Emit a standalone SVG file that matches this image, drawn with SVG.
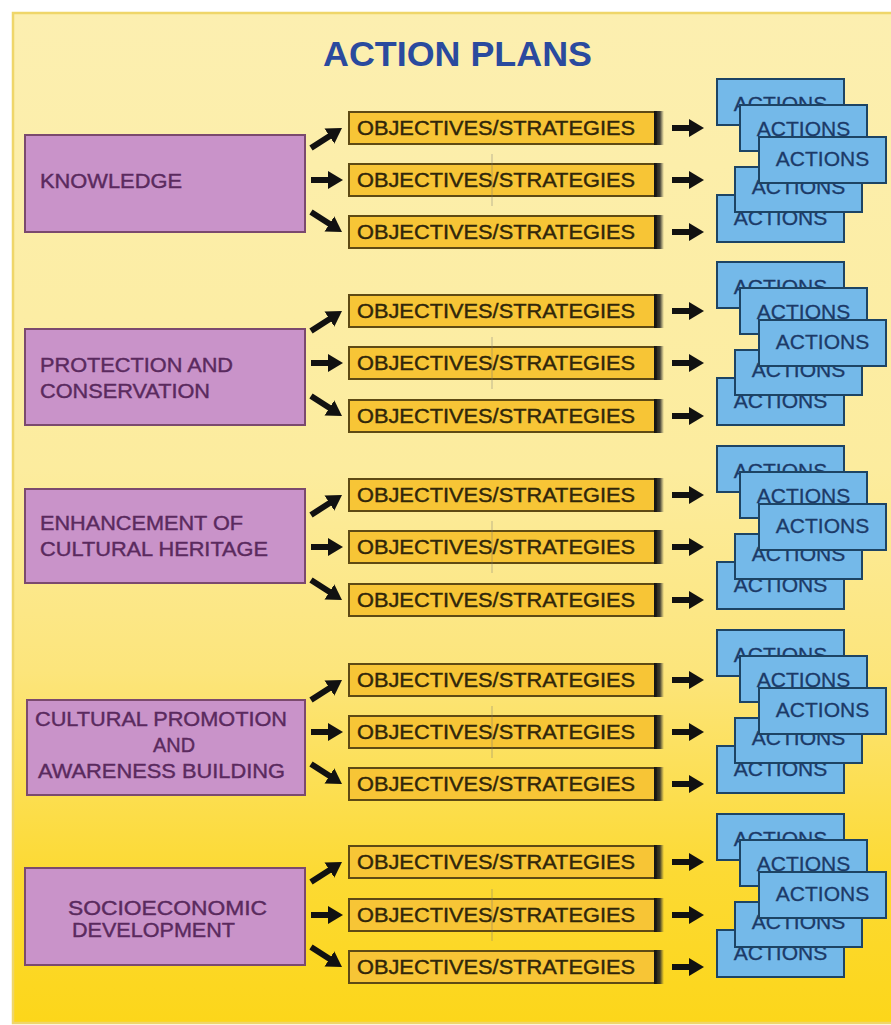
<svg xmlns="http://www.w3.org/2000/svg" width="891" height="1025" viewBox="0 0 891 1025">
<defs>
<linearGradient id="bg" x1="0" y1="0" x2="0" y2="1">
<stop offset="0" stop-color="#fcefb0"/>
<stop offset="0.45" stop-color="#fcec9e"/>
<stop offset="0.65" stop-color="#fce57c"/>
<stop offset="0.85" stop-color="#fcda34"/>
<stop offset="1" stop-color="#fcd61a"/>
</linearGradient>
<linearGradient id="shade" x1="0" y1="0" x2="1" y2="0">
<stop offset="0" stop-color="#111" stop-opacity="1"/>
<stop offset="0.6" stop-color="#222" stop-opacity="0.85"/>
<stop offset="1" stop-color="#444" stop-opacity="0"/>
</linearGradient>
<marker id="ah" markerUnits="userSpaceOnUse" markerWidth="16" markerHeight="20" refX="5" refY="10" orient="auto">
<path d="M0,1 L15,10 L0,19 z" fill="#111"/>
</marker>
<style>
.title{font-family:"Liberation Sans",Arial,sans-serif;font-weight:bold;font-size:35px;fill:#2a4a9e}
.pbox{fill:#c993c9;stroke:#7b4a6e;stroke-width:2}
.ptxt{font-family:"Liberation Sans",Arial,sans-serif;font-size:20px;fill:#5a2a5e;stroke:#5a2a5e;stroke-width:0.4}
.obox{fill:#f7c536;stroke:#5e4a14;stroke-width:2}
.oshd{fill:url(#shade)}
.otxt{font-family:"Liberation Sans",Arial,sans-serif;font-size:20px;fill:#30260a;stroke:#30260a;stroke-width:0.4}
.vln{stroke:#777;stroke-width:1;opacity:0.45}
.abox{fill:#74b9e9;stroke:#1d4464;stroke-width:2}
.atxt{font-family:"Liberation Sans",Arial,sans-serif;font-size:21px;fill:#1c3a68;stroke:#1c3a68;stroke-width:0.3;text-anchor:middle}
.conn line{stroke:#111;stroke-width:6;marker-end:url(#ah)}
</style>
</defs>
<rect x="0" y="0" width="891" height="1025" fill="#ffffff"/>
<rect x="13" y="13" width="890" height="1010" fill="url(#bg)" stroke="#efd66a" stroke-width="2.5"/>
<text class="title" x="323" y="66" textLength="269" lengthAdjust="spacingAndGlyphs">ACTION PLANS</text>

<!-- connectors -->
<g id="connectors" class="conn">
<line x1="311" y1="148" x2="333.6" y2="133.4"/>
<line x1="311" y1="180" x2="333" y2="180"/>
<line x1="311" y1="212" x2="333.6" y2="226.6"/>
<line x1="672" y1="128" x2="694" y2="128"/>
<line x1="672" y1="180" x2="694" y2="180"/>
<line x1="672" y1="232" x2="694" y2="232"/>

<line x1="311" y1="331" x2="333.6" y2="316.4"/>
<line x1="311" y1="363" x2="333" y2="363"/>
<line x1="311" y1="396" x2="333.6" y2="410.6"/>
<line x1="672" y1="311" x2="694" y2="311"/>
<line x1="672" y1="363" x2="694" y2="363"/>
<line x1="672" y1="416" x2="694" y2="416"/>

<line x1="311" y1="515" x2="333.6" y2="500.4"/>
<line x1="311" y1="547" x2="333" y2="547"/>
<line x1="311" y1="580" x2="333.6" y2="594.6"/>
<line x1="672" y1="495" x2="694" y2="495"/>
<line x1="672" y1="547" x2="694" y2="547"/>
<line x1="672" y1="600" x2="694" y2="600"/>

<line x1="311" y1="700" x2="333.6" y2="685.4"/>
<line x1="311" y1="732" x2="333" y2="732"/>
<line x1="311" y1="764" x2="333.6" y2="778.6"/>
<line x1="672" y1="680" x2="694" y2="680"/>
<line x1="672" y1="732" x2="694" y2="732"/>
<line x1="672" y1="784" x2="694" y2="784"/>

<line x1="311" y1="882" x2="333.6" y2="867.4"/>
<line x1="311" y1="915" x2="333" y2="915"/>
<line x1="311" y1="947" x2="333.6" y2="961.6"/>
<line x1="672" y1="862" x2="694" y2="862"/>
<line x1="672" y1="915" x2="694" y2="915"/>
<line x1="672" y1="967" x2="694" y2="967"/>
</g>

<!-- purple nodes -->
<g id="knowledge"><rect class="pbox" x="25" y="135" width="280" height="97"/>
<text class="ptxt" x="40" y="188" textLength="142" lengthAdjust="spacingAndGlyphs">KNOWLEDGE</text></g>
<g id="protection"><rect class="pbox" x="25" y="329" width="280" height="96"/>
<text class="ptxt" x="40" y="372" textLength="193" lengthAdjust="spacingAndGlyphs">PROTECTION AND</text>
<text class="ptxt" x="40" y="398" textLength="170" lengthAdjust="spacingAndGlyphs">CONSERVATION</text></g>
<g id="enhancement"><rect class="pbox" x="25" y="489" width="280" height="94"/>
<text class="ptxt" x="40" y="530" textLength="203" lengthAdjust="spacingAndGlyphs">ENHANCEMENT OF</text>
<text class="ptxt" x="40" y="556" textLength="228" lengthAdjust="spacingAndGlyphs">CULTURAL HERITAGE</text></g>
<g id="promotion"><rect class="pbox" x="27" y="700" width="278" height="95"/>
<text class="ptxt" x="35" y="726" textLength="252" lengthAdjust="spacingAndGlyphs">CULTURAL PROMOTION</text>
<text class="ptxt" x="153" y="752" textLength="42" lengthAdjust="spacingAndGlyphs">AND</text>
<text class="ptxt" x="38" y="778" textLength="247" lengthAdjust="spacingAndGlyphs">AWARENESS BUILDING</text></g>
<g id="socioeconomic"><rect class="pbox" x="25" y="868" width="280" height="97"/>
<text class="ptxt" x="68" y="915" textLength="199" lengthAdjust="spacingAndGlyphs">SOCIOECONOMIC</text>
<text class="ptxt" x="72" y="937" textLength="163" lengthAdjust="spacingAndGlyphs">DEVELOPMENT</text></g>

<!-- objectives/strategies nodes -->
<g id="obj-1-1"><rect class="obox" x="349" y="112" width="307" height="32"/><rect class="oshd" x="654" y="111" width="10" height="34"/><text class="otxt" x="357" y="135" textLength="278" lengthAdjust="spacingAndGlyphs">OBJECTIVES/STRATEGIES</text></g>
<g id="obj-1-2"><rect class="obox" x="349" y="164" width="307" height="32"/><rect class="oshd" x="654" y="163" width="10" height="34"/><text class="otxt" x="357" y="187" textLength="278" lengthAdjust="spacingAndGlyphs">OBJECTIVES/STRATEGIES</text><line class="vln" x1="492" y1="154" x2="492" y2="206"/></g>
<g id="obj-1-3"><rect class="obox" x="349" y="216" width="307" height="32"/><rect class="oshd" x="654" y="215" width="10" height="34"/><text class="otxt" x="357" y="239" textLength="278" lengthAdjust="spacingAndGlyphs">OBJECTIVES/STRATEGIES</text></g>

<g id="obj-2-1"><rect class="obox" x="349" y="295" width="307" height="32"/><rect class="oshd" x="654" y="294" width="10" height="34"/><text class="otxt" x="357" y="318" textLength="278" lengthAdjust="spacingAndGlyphs">OBJECTIVES/STRATEGIES</text></g>
<g id="obj-2-2"><rect class="obox" x="349" y="347" width="307" height="32"/><rect class="oshd" x="654" y="346" width="10" height="34"/><text class="otxt" x="357" y="370" textLength="278" lengthAdjust="spacingAndGlyphs">OBJECTIVES/STRATEGIES</text><line class="vln" x1="492" y1="337" x2="492" y2="389"/></g>
<g id="obj-2-3"><rect class="obox" x="349" y="400" width="307" height="32"/><rect class="oshd" x="654" y="399" width="10" height="34"/><text class="otxt" x="357" y="423" textLength="278" lengthAdjust="spacingAndGlyphs">OBJECTIVES/STRATEGIES</text></g>

<g id="obj-3-1"><rect class="obox" x="349" y="479" width="307" height="32"/><rect class="oshd" x="654" y="478" width="10" height="34"/><text class="otxt" x="357" y="502" textLength="278" lengthAdjust="spacingAndGlyphs">OBJECTIVES/STRATEGIES</text></g>
<g id="obj-3-2"><rect class="obox" x="349" y="531" width="307" height="32"/><rect class="oshd" x="654" y="530" width="10" height="34"/><text class="otxt" x="357" y="554" textLength="278" lengthAdjust="spacingAndGlyphs">OBJECTIVES/STRATEGIES</text><line class="vln" x1="492" y1="521" x2="492" y2="573"/></g>
<g id="obj-3-3"><rect class="obox" x="349" y="584" width="307" height="32"/><rect class="oshd" x="654" y="583" width="10" height="34"/><text class="otxt" x="357" y="607" textLength="278" lengthAdjust="spacingAndGlyphs">OBJECTIVES/STRATEGIES</text></g>

<g id="obj-4-1"><rect class="obox" x="349" y="664" width="307" height="32"/><rect class="oshd" x="654" y="663" width="10" height="34"/><text class="otxt" x="357" y="687" textLength="278" lengthAdjust="spacingAndGlyphs">OBJECTIVES/STRATEGIES</text></g>
<g id="obj-4-2"><rect class="obox" x="349" y="716" width="307" height="32"/><rect class="oshd" x="654" y="715" width="10" height="34"/><text class="otxt" x="357" y="739" textLength="278" lengthAdjust="spacingAndGlyphs">OBJECTIVES/STRATEGIES</text><line class="vln" x1="492" y1="706" x2="492" y2="758"/></g>
<g id="obj-4-3"><rect class="obox" x="349" y="768" width="307" height="32"/><rect class="oshd" x="654" y="767" width="10" height="34"/><text class="otxt" x="357" y="791" textLength="278" lengthAdjust="spacingAndGlyphs">OBJECTIVES/STRATEGIES</text></g>

<g id="obj-5-1"><rect class="obox" x="349" y="846" width="307" height="32"/><rect class="oshd" x="654" y="845" width="10" height="34"/><text class="otxt" x="357" y="869" textLength="278" lengthAdjust="spacingAndGlyphs">OBJECTIVES/STRATEGIES</text></g>
<g id="obj-5-2"><rect class="obox" x="349" y="899" width="307" height="32"/><rect class="oshd" x="654" y="898" width="10" height="34"/><text class="otxt" x="357" y="922" textLength="278" lengthAdjust="spacingAndGlyphs">OBJECTIVES/STRATEGIES</text><line class="vln" x1="492" y1="889" x2="492" y2="941"/></g>
<g id="obj-5-3"><rect class="obox" x="349" y="951" width="307" height="32"/><rect class="oshd" x="654" y="950" width="10" height="34"/><text class="otxt" x="357" y="974" textLength="278" lengthAdjust="spacingAndGlyphs">OBJECTIVES/STRATEGIES</text></g>

<!-- actions stacks -->
<g id="actions-1">
<rect class="abox" x="717" y="79" width="127" height="46"/><text class="atxt" x="780.5" y="111">ACTIONS</text>
<rect class="abox" x="740" y="105" width="127" height="46"/><text class="atxt" x="803.5" y="136">ACTIONS</text>
<rect class="abox" x="717" y="195" width="127" height="47"/><text class="atxt" x="780.5" y="225">ACTIONS</text>
<rect class="abox" x="735" y="167" width="127" height="45"/><text class="atxt" x="798.5" y="194">ACTIONS</text>
<rect class="abox" x="759" y="137" width="127" height="46"/><text class="atxt" x="822.5" y="166">ACTIONS</text>
</g>
<g id="actions-2">
<rect class="abox" x="717" y="262" width="127" height="46"/><text class="atxt" x="780.5" y="294">ACTIONS</text>
<rect class="abox" x="740" y="288" width="127" height="46"/><text class="atxt" x="803.5" y="319">ACTIONS</text>
<rect class="abox" x="717" y="378" width="127" height="47"/><text class="atxt" x="780.5" y="408">ACTIONS</text>
<rect class="abox" x="735" y="350" width="127" height="45"/><text class="atxt" x="798.5" y="377">ACTIONS</text>
<rect class="abox" x="759" y="320" width="127" height="46"/><text class="atxt" x="822.5" y="349">ACTIONS</text>
</g>
<g id="actions-3">
<rect class="abox" x="717" y="446" width="127" height="46"/><text class="atxt" x="780.5" y="478">ACTIONS</text>
<rect class="abox" x="740" y="472" width="127" height="46"/><text class="atxt" x="803.5" y="503">ACTIONS</text>
<rect class="abox" x="717" y="562" width="127" height="47"/><text class="atxt" x="780.5" y="592">ACTIONS</text>
<rect class="abox" x="735" y="534" width="127" height="45"/><text class="atxt" x="798.5" y="561">ACTIONS</text>
<rect class="abox" x="759" y="504" width="127" height="46"/><text class="atxt" x="822.5" y="533">ACTIONS</text>
</g>
<g id="actions-4">
<rect class="abox" x="717" y="630" width="127" height="46"/><text class="atxt" x="780.5" y="662">ACTIONS</text>
<rect class="abox" x="740" y="656" width="127" height="46"/><text class="atxt" x="803.5" y="687">ACTIONS</text>
<rect class="abox" x="717" y="746" width="127" height="47"/><text class="atxt" x="780.5" y="776">ACTIONS</text>
<rect class="abox" x="735" y="718" width="127" height="45"/><text class="atxt" x="798.5" y="745">ACTIONS</text>
<rect class="abox" x="759" y="688" width="127" height="46"/><text class="atxt" x="822.5" y="717">ACTIONS</text>
</g>
<g id="actions-5">
<rect class="abox" x="717" y="814" width="127" height="46"/><text class="atxt" x="780.5" y="846">ACTIONS</text>
<rect class="abox" x="740" y="840" width="127" height="46"/><text class="atxt" x="803.5" y="871">ACTIONS</text>
<rect class="abox" x="717" y="930" width="127" height="47"/><text class="atxt" x="780.5" y="960">ACTIONS</text>
<rect class="abox" x="735" y="902" width="127" height="45"/><text class="atxt" x="798.5" y="929">ACTIONS</text>
<rect class="abox" x="759" y="872" width="127" height="46"/><text class="atxt" x="822.5" y="901">ACTIONS</text>
</g>
</svg>
